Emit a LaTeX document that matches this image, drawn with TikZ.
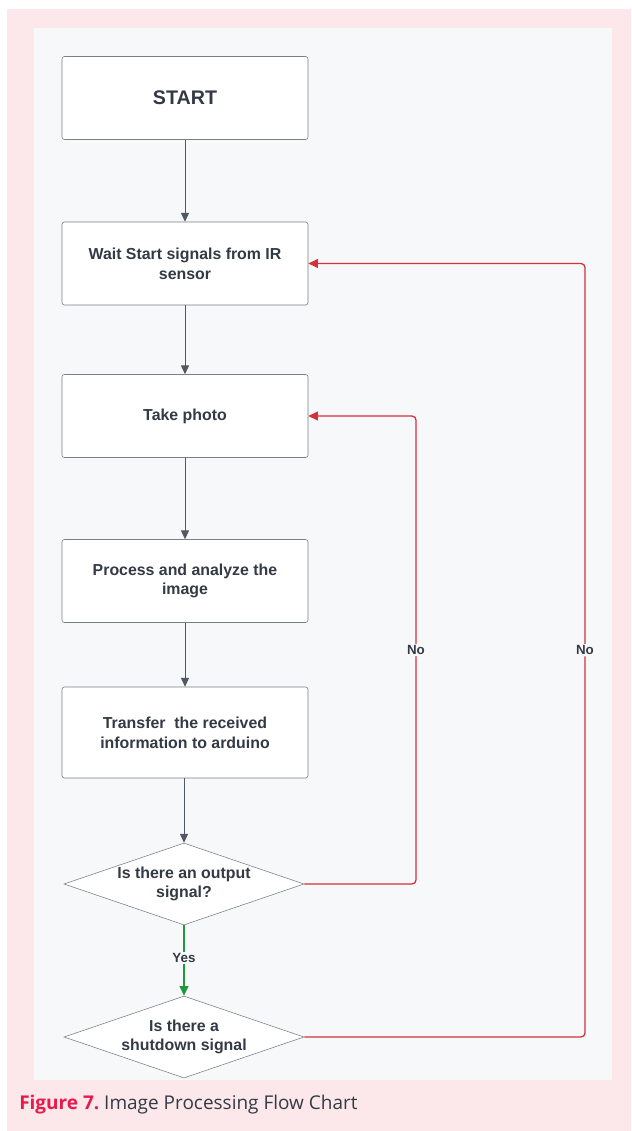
\documentclass[tikz,border=0pt]{standalone}
\usepackage{fontspec}
\setmainfont{Liberation Sans}
\newfontfamily\capfont{Open Sans}
\usepackage{xcolor}
\usetikzlibrary{positioning,shapes.geometric,arrows.meta}

\definecolor{pinkbg}{HTML}{FCE8EA}
\definecolor{panelbg}{HTML}{F7F8FA}
\definecolor{inkgray}{HTML}{333A45}
\definecolor{edgegray}{HTML}{7A7E85}
\definecolor{loopred}{HTML}{D3303A}
\definecolor{yesgreen}{HTML}{1E9A3C}
\definecolor{figred}{HTML}{E8194B}

\tikzset{
  box/.style={draw=edgegray, fill=white, rounded corners=0.6mm, line width=0.4pt,
    minimum width=61.5mm, minimum height=20.75mm, align=center,
    font=\fontsize{11.3}{14}\selectfont\bfseries, text=inkgray},
  decision/.style={draw=edgegray, fill=white, diamond, aspect=2.93, line width=0.4pt,
    minimum width=60mm, minimum height=20.5mm, inner sep=0pt, align=center,
    font=\fontsize{11.3}{14}\selectfont\bfseries, text=inkgray},
  flow/.style={draw=inkgray!85, line width=0.6pt, -{Triangle[length=2.2mm,width=2mm]}},
  noflow/.style={draw=loopred, line width=0.9pt, rounded corners=1mm,
    -{Triangle[length=2.4mm,width=2.2mm]}},
  yesflow/.style={draw=yesgreen, line width=0.9pt, -{Triangle[length=2.4mm,width=2.2mm]}},
  lab/.style={fill=panelbg, inner sep=1pt, text=inkgray,
    font=\fontsize{9.5}{10}\selectfont\bfseries}
}

\begin{document}
\begin{tikzpicture}[x=0.25mm,y=-0.25mm]
  % page, frame and panel
  \useasboundingbox (0,0) rectangle (631,1131);
  \fill[white] (0,0) rectangle (631,1131);
  \fill[pinkbg] (7,9) rectangle (631,1131);
  \fill[panelbg] (34,28) rectangle (612,1080);

  % steps
  \node[box, font=\fontsize{14}{16}\selectfont\bfseries] (start) at (185,98) {START};
  \node[box] (wait) at (185,263.5) {Wait Start signals from IR\\sensor};
  \node[box] (photo) at (185,416) {Take photo};
  \node[box] (process) at (185,581) {Process and analyze the\\image};
  \node[box, minimum height=22.75mm] (transfer) at (185,732.5) {Transfer\ \ the received\\information to arduino};
  \node[decision] (output) at (184,884) {Is there an output\\signal?};
  \node[decision] (shutdown) at (184,1037) {Is there a\\shutdown signal};

  % turning points of the loops
  \coordinate (c1) at (416,884);
  \coordinate (c2) at (585,1037);

  % connectors
  \draw[flow] (start) -- (wait);
  \draw[flow] (wait) -- (photo);
  \draw[flow] (photo) -- (process);
  \draw[flow] (process) -- (transfer);
  \draw[flow] (transfer.south -| output.north) -- (output.north);
  \draw[yesflow] (output.south) -- node[lab, pos=0.47] {Yes} (shutdown.north);
  \draw[noflow] (output.east) -- (c1) -- node[lab, pos=0.5] {No} (c1 |- photo.east) -- (photo.east);
  \draw[noflow] (shutdown.east) -- (c2) -- node[lab, pos=0.5] {No} (c2 |- wait.east) -- (wait.east);

  % caption
  \node[anchor=base west, inner sep=0pt, font=\capfont\fontsize{13.5}{16}\selectfont]
    (caption) at (19,1109) {\textcolor{figred}{\bfseries Figure 7.}\ \textcolor{inkgray}{Image Processing Flow Chart}};
\end{tikzpicture}
\end{document}
